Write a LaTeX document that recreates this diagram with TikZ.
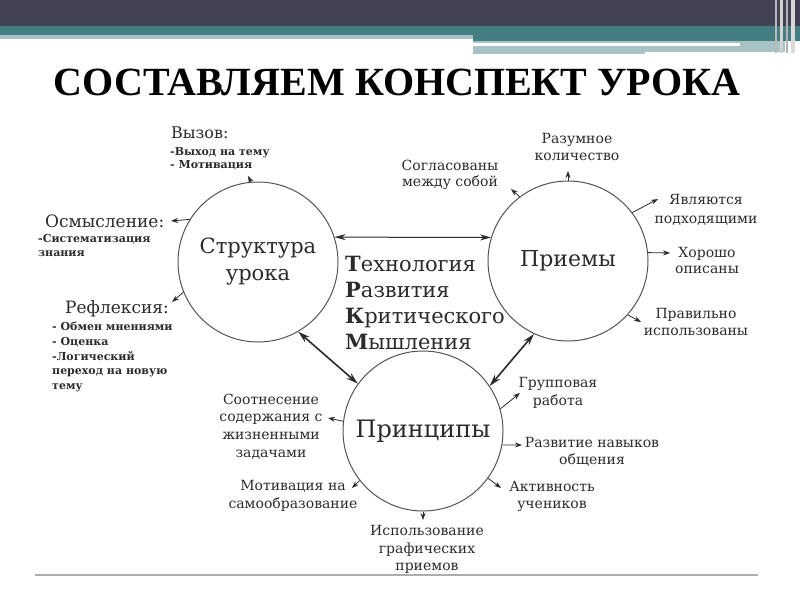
\documentclass[tikz,border=0pt]{standalone}
\usepackage{fontspec}
\setmainfont{DejaVu Serif}
\newfontfamily\titlefont{Liberation Serif}
\usetikzlibrary{arrows.meta}
\definecolor{hdark}{HTML}{424254}
\definecolor{hteal}{HTML}{447E82}
\definecolor{hlight}{HTML}{A7C3C5}
\definecolor{txt}{HTML}{2B2B2B}
\definecolor{circ}{HTML}{555555}
\definecolor{rule}{HTML}{ADADAD}
\begin{document}
\begin{tikzpicture}[x=1pt,y=-1pt,
  bubble/.style={circle,draw=circ,line width=1pt,minimum size=160pt,inner sep=0pt,text=txt,align=center},
  lbl/.style={text=txt,align=center,inner sep=0pt},
  lblleft/.style={text=txt,align=left,inner sep=0pt,anchor=west},
  sarrow/.style={draw=txt,line width=0.8pt,-{Stealth[length=7pt,width=5pt]}},
  barrow/.style={draw=txt,line width=1pt,{Stealth[length=11pt,width=6pt]}-{Stealth[length=11pt,width=6pt]}},
  darrow/.style={draw=txt,line width=1.6pt,{Stealth[length=12pt,width=7pt]}-{Stealth[length=12pt,width=7pt]}}
]
\useasboundingbox (0,0) rectangle (800,600);
\fill[white] (0,0) rectangle (800,600);
% header
\fill[hdark] (0,0) rectangle (800,26);
\fill[hteal] (0,26) rectangle (800,35);
\fill[hteal] (473,35) rectangle (800,41);
\fill[hlight] (0,35) rectangle (473,39);
\fill[hlight] (473,41) rectangle (785,53);
\fill[white] (473,43) rectangle (740,45.5);
\fill[hlight] (473,45.5) rectangle (645,54);
\fill[white] (645,52) rectangle (785,54);
\fill[gray!55] (775,0) rectangle (777,53);
\fill[gray!35] (780,0) rectangle (783,53);
\fill[gray!60] (786,0) rectangle (788,53);
\fill[gray!30] (791,0) rectangle (795,53);
% title
\node[anchor=base,inner sep=0pt,text=black,font=\titlefont\bfseries\fontsize{40}{44}\selectfont] (title) at (397,95) {СОСТАВЛЯЕМ КОНСПЕКТ УРОКА};
% bottom rule
\draw[rule,line width=2.5pt] (35,575) coordinate (r1) -- (758,575) coordinate (r2);
% circles
\node[bubble,font=\fontsize{21}{27}\selectfont] (s) at (258,262) {Структура\\урока};
\node[bubble,font=\fontsize{22}{26}\selectfont] (p) at (568,261) {Приемы};
\node[bubble,font=\fontsize{24}{28}\selectfont] (pr) at (423,431) {Принципы};
% central text
\node[lblleft,font=\fontsize{21}{26}\selectfont] (trkm) at (345,303) {\textbf{Т}ехнология\\\textbf{Р}азвития\\\textbf{К}ритического\\\textbf{М}ышления};
% big arrows
\draw[barrow] (s.18) -- (p.163);
\draw[darrow] (s.-60) -- (pr.144);
\draw[darrow] (p.245) -- (pr.34);
% Структура labels
\node[lblleft,font=\fontsize{16}{18}\selectfont] (vyz) at (171,133) {Вызов:};
\node[lblleft,font=\bfseries\fontsize{11}{13.5}\selectfont] (vyzs) at (170,158.5) {-Выход на тему\\- Мотивация};
\node[lblleft,font=\fontsize{17}{19}\selectfont] (osm) at (45,221) {Осмысление:};
\node[lblleft,font=\bfseries\fontsize{11}{14}\selectfont] (osms) at (38,245) {-Систематизация\\знания};
\node[lblleft,font=\fontsize{17}{19}\selectfont] (refl) at (65,309) {Рефлексия:};
\node[lblleft,font=\bfseries\fontsize{11}{14.8}\selectfont] (refls) at (52,357) {- Обмен мнениями\\- Оценка\\-Логический\\переход на новую\\тему};
\coordinate (h1) at (248,176);
\coordinate (h2) at (171,221);
\coordinate (h3) at (172,302);
\draw[sarrow] (s.95) -- (h1);
\draw[sarrow] (s.148) -- (h2);
\draw[sarrow] (s.202) -- (h3);
% Приемы labels
\node[lbl,font=\fontsize{14}{16}\selectfont] (sogl) at (450,175) {Согласованы\\между собой};
\node[lbl,font=\fontsize{14}{17}\selectfont] (razum) at (577,146.5) {Разумное\\количество};
\node[lbl,font=\fontsize{14}{19}\selectfont] (yavl) at (706,209.5) {Являются\\подходящими};
\node[lbl,font=\fontsize{14}{16}\selectfont] (hor) at (707,260) {Хорошо\\описаны};
\node[lbl,font=\fontsize{14}{17}\selectfont] (prav) at (696,321.5) {Правильно\\использованы};
\coordinate (h4) at (511,189);
\coordinate (h5) at (568,171);
\coordinate (h6) at (658,199);
\coordinate (h7) at (670,253);
\coordinate (h8) at (641,322);
\draw[sarrow] (p.127) -- (h4);
\draw[sarrow] (p.90) -- (h5);
\draw[sarrow] (p.37) -- (h6);
\draw[sarrow] (p.6) -- (h7);
\draw[sarrow] (p.-42) -- (h8);
% Принципы labels
\node[lbl,font=\fontsize{14}{18}\selectfont] (grup) at (558,393) {Групповая\\работа};
\node[lbl,font=\fontsize{14}{17}\selectfont] (razv) at (592,451.5) {Развитие навыков\\общения};
\node[lbl,font=\fontsize{14}{17}\selectfont] (akt) at (552,496.5) {Активность\\учеников};
\node[lbl,font=\fontsize{14}{17.5}\selectfont] (isp) at (427,549.5) {Использование\\графических\\приемов};
\node[lbl,font=\fontsize{14}{18}\selectfont] (motiv) at (293,496) {Мотивация на\\самообразование};
\node[lbl,font=\fontsize{14}{17.7}\selectfont] (sootn) at (271,426.5) {Соотнесение\\содержания с\\жизненными\\задачами};
\coordinate (h9) at (520,393);
\coordinate (h10) at (522,445);
\coordinate (h11) at (501,488);
\coordinate (h12) at (423,520);
\coordinate (h13) at (352,488);
\coordinate (h14) at (328,418);
\draw[sarrow] (pr.16) -- (h9);
\draw[sarrow] (pr.-10) -- (h10);
\draw[sarrow] (pr.-36) -- (h11);
\draw[sarrow] (pr.270) -- (h12);
\draw[sarrow] (pr.218) -- (h13);
\draw[sarrow] (pr.173) -- (h14);
\end{tikzpicture}
\end{document}
